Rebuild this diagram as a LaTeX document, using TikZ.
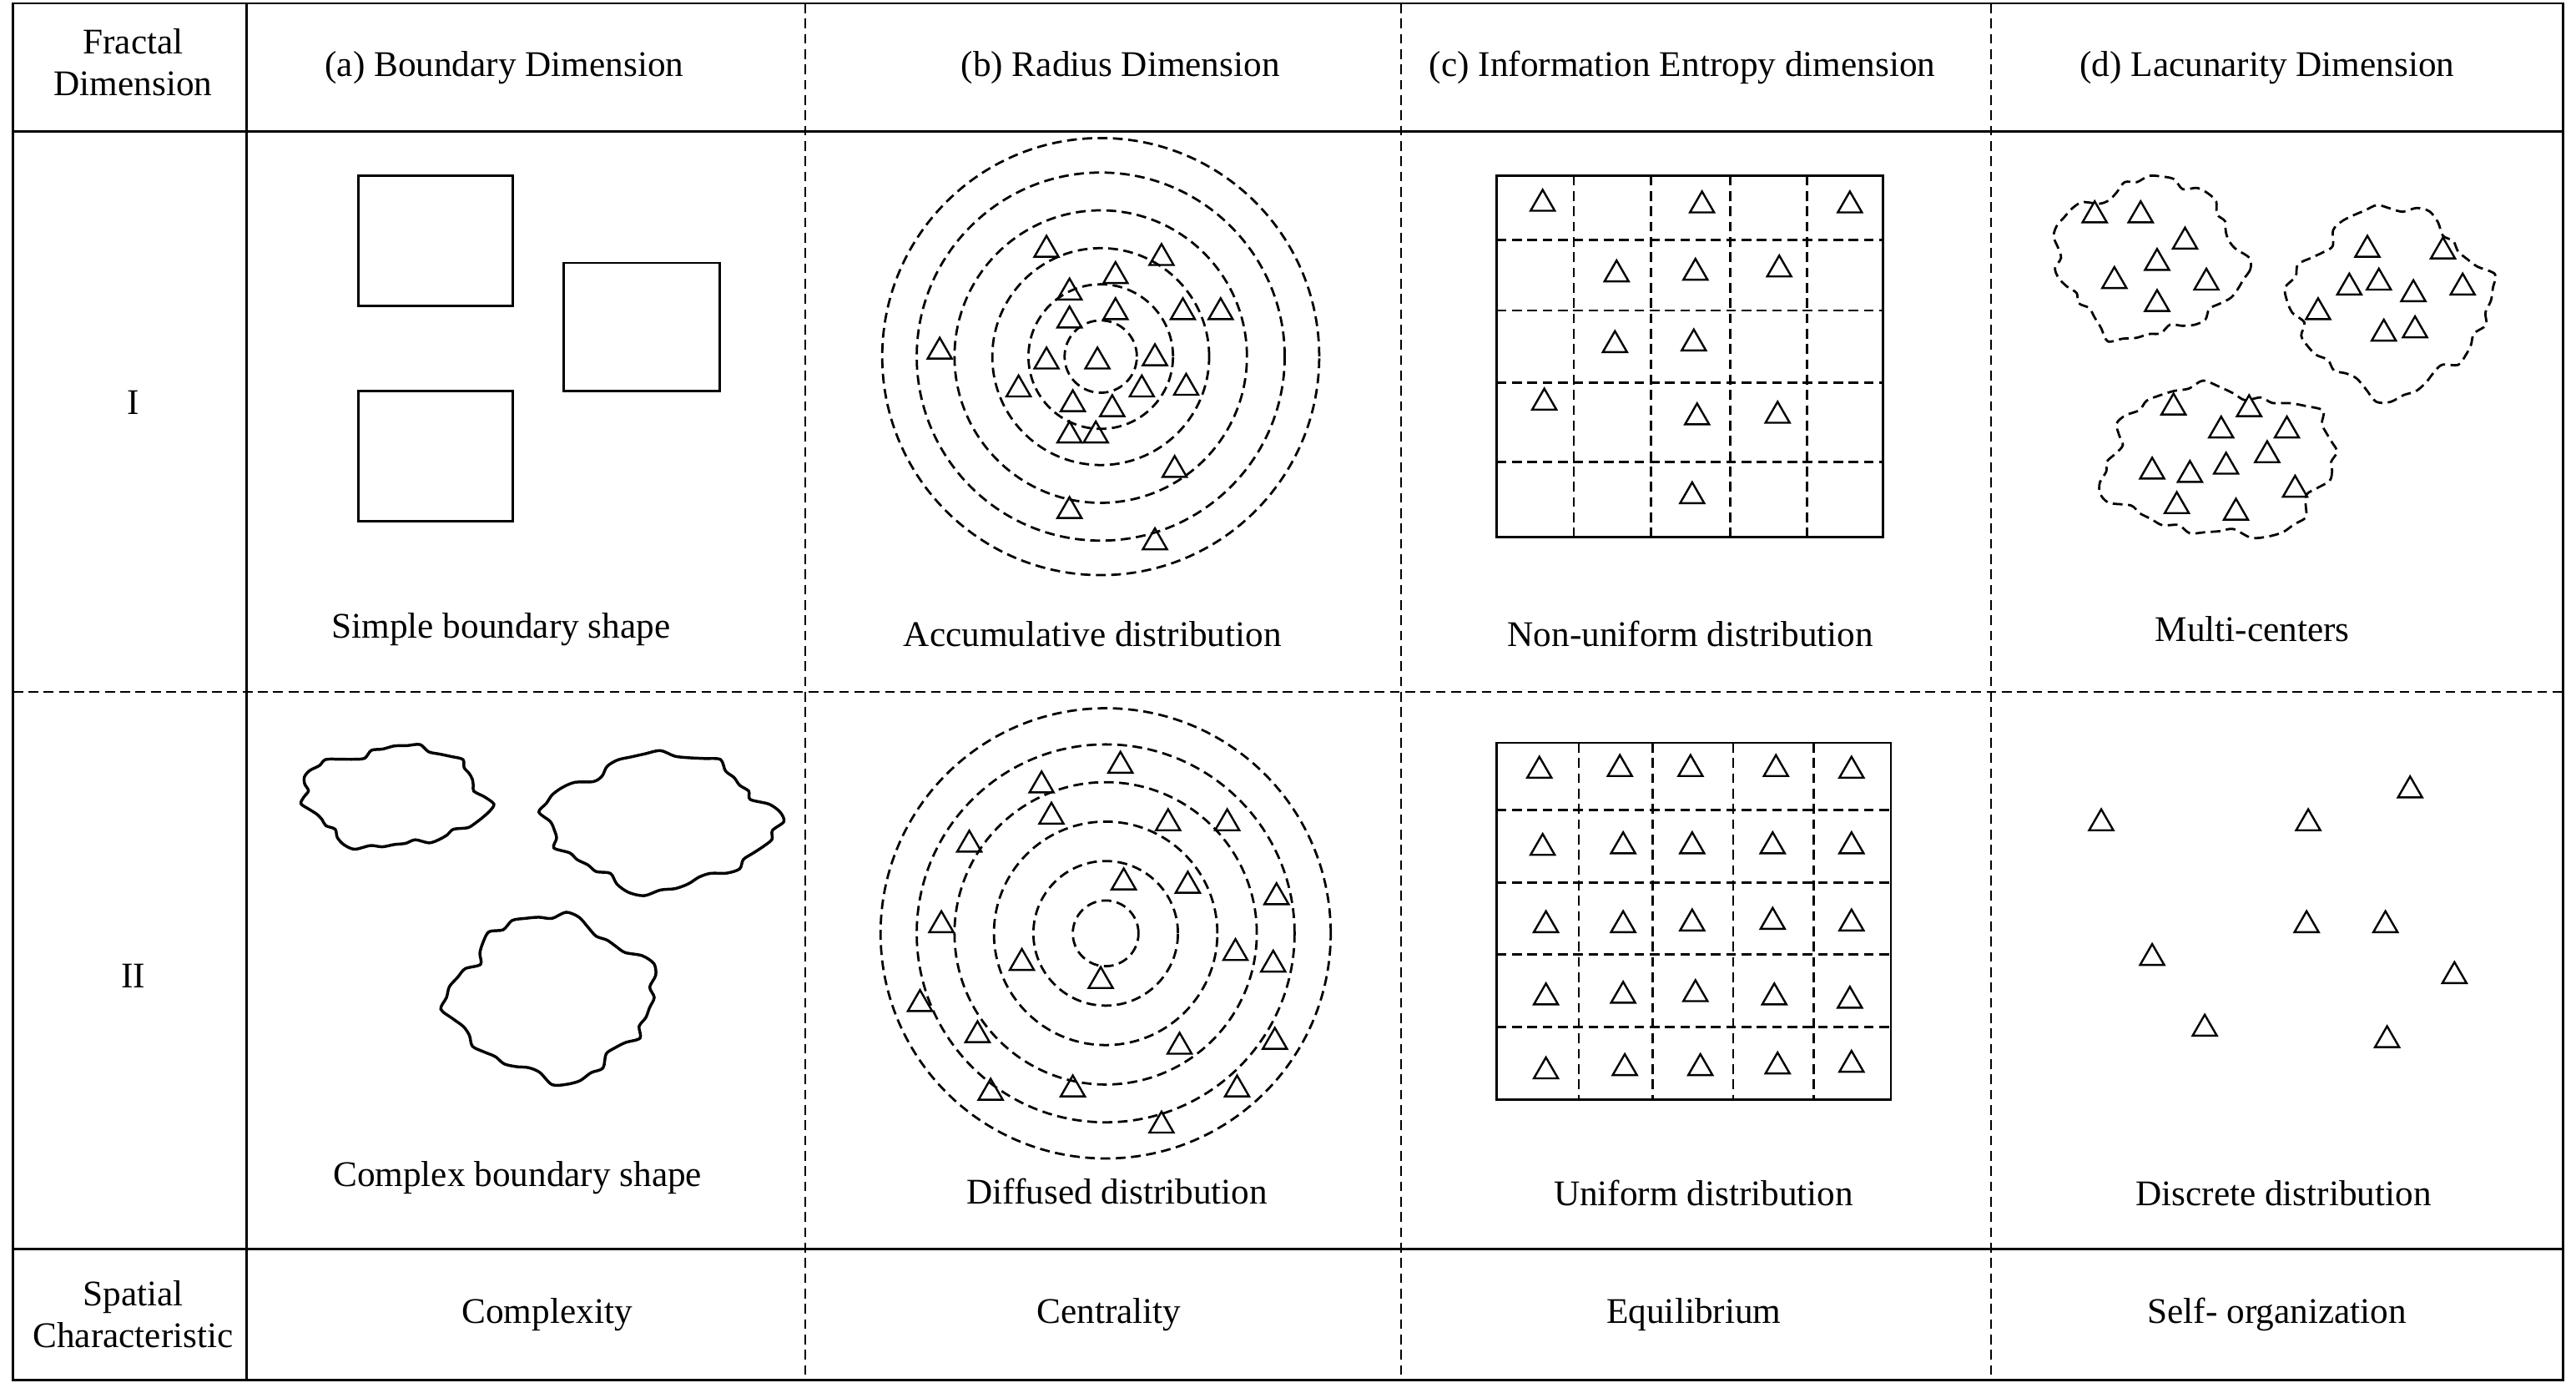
\documentclass[tikz,border=0pt]{standalone}
\usepackage{fontspec}
\setmainfont{Liberation Serif}
\usetikzlibrary{shapes.geometric}
\begin{document}
\begin{tikzpicture}[x=0.02cm,y=-0.02cm,
  line width=0.8pt,
  dsh/.style={dash pattern=on 3.4pt off 1.9pt},
  tri/.style={regular polygon,regular polygon sides=3,draw,minimum size=0.34cm,inner sep=0pt,line width=0.7pt},
  txt/.style={font=\fontsize{12.5}{14.5}\selectfont,align=center,inner sep=0pt},
  declare function={bf(\t,\p)=1+0.07*sin(4*\t+\p)+0.05*sin(7*\t+2*\p)+0.035*sin(13*\t+3*\p)+0.02*sin(23*\t+\p);}]
\useasboundingbox (0,0) rectangle (1568,850.3);
\fill[white] (0,0) rectangle (1568,850.3);
% table
\draw (8,2) rectangle (1560,840);
\draw (8,80) -- (1560,80);
\draw (8,760) -- (1560,760);
\draw (150,2) -- (150,840);
\draw[dsh,line width=0.6pt] (8,421) -- (1560,421);
\foreach \x in {490,853,1212} \draw[dsh,line width=0.6pt] (\x,2) -- (\x,840);
% headers
\node[txt] (h0) at (81,38) {Fractal\\Dimension};
\node[txt] (ha) at (307,41) {(a) Boundary Dimension};
\node[txt] (hb) at (682,41) {(b) Radius Dimension};
\node[txt] (hc) at (1024,41) {(c) Information Entropy dimension};
\node[txt] (hd) at (1380,41) {(d) Lacunarity Dimension};
\node[txt] (r1) at (81,245) {I};
\node[txt] (r2) at (81,594) {II};
\node[txt] (sc) at (81,800) {Spatial\\Characteristic};
\node[txt] (s1) at (333,800) {Complexity};
\node[txt] (s2) at (675,800) {Centrality};
\node[txt] (s3) at (1031,800) {Equilibrium};
\node[txt] (s4) at (1386,800) {Self- organization};
\node[txt] (l1) at (305,383) {Simple boundary shape};
\node[txt] (l2) at (665,386) {Accumulative distribution};
\node[txt] (l3) at (1029,386) {Non-uniform distribution};
\node[txt] (l4) at (1371,383) {Multi-centers};
\node[txt] (l5) at (315,717) {Complex boundary shape};
\node[txt] (l6) at (680,725) {Diffused distribution};
\node[txt] (l7) at (1037,726) {Uniform distribution};
\node[txt] (l8) at (1390,726) {Discrete distribution};
% (a) I
\draw (218,107) rectangle (312,186);
\draw (343,160) rectangle (438,238);
\draw (218,238) rectangle (312,317);
% (a) II blobs
\draw[line width=1pt] plot[smooth cycle,samples=48,domain=0:352.5,variable=\t] ({240+55*cos(\t)*bf(\t,0)},{485+30*sin(\t)*bf(\t,0)});
\draw[line width=1pt] plot[smooth cycle,samples=48,domain=0:352.5,variable=\t] ({402+67*cos(\t)*bf(\t,60)},{500+40*sin(\t)*bf(\t,60)});
\draw[line width=1pt] plot[smooth cycle,samples=48,domain=0:352.5,variable=\t] ({336+60*cos(\t)*bf(\t,130)},{607+48*sin(\t)*bf(\t,130)});
% (b) I
\foreach \r in {22,44,66,89,112,133} \draw[dsh] (670,217) circle[radius=\r*0.02cm];
\foreach \p [count=\i] in {(637,152),(707,157),(679,168),(651,178),(679,190),(720,190),(743,190),(651,195),(572,214),(637,220),(668,220),(703,218),(620,237),(695,237),(722,236),(653,246),(677,249),(651,265),(667,265),(715,286),(651,311),(703,330)}
  \node[tri] (tb\i) at \p {};
% (b) II
\foreach \r in {20,44,68,92,115,137} \draw[dsh] (673,568) circle[radius=\r*0.02cm];
\foreach \p [count=\i] in {(682,466),(634,478),(640,497),(711,501),(747,501),(590,514),(684,537),(723,539),(777,546),(573,563),(622,586),(752,580),(775,587),(670,597),(560,611),(595,630),(718,637),(776,634),(603,665),(653,663),(753,663),(707,685)}
  \node[tri] (tc\i) at \p {};
% (c) I
\draw (911,107) rectangle (1146,327);
\foreach \x in {958,1005,1053,1100} \draw[dsh] (\x,107) -- (\x,327);
\foreach \y in {146,189,233,281} \draw[dsh] (911,\y) -- (1146,\y);
\foreach \p [count=\i] in {(939,124),(1036,125),(1126,125),(984,167),(1032,166),(1083,164),(983,210),(1031,209),(940,245),(1033,254),(1082,253),(1030,302)}
  \node[tri] (td\i) at \p {};
% (c) II
\draw (911,452) rectangle (1151,669);
\foreach \x in {961,1006,1055,1104} \draw[dsh] (\x,452) -- (\x,669);
\foreach \y in {493,537,581,625} \draw[dsh] (911,\y) -- (1151,\y);
\foreach \p [count=\i] in {(937,469),(986,468),(1029,468),(1081,468),(1127,469),
 (939,516),(988,515),(1030,515),(1079,515),(1127,515),
 (941,563),(988,563),(1030,562),(1079,561),(1127,562),
 (941,607),(988,606),(1032,605),(1080,607),(1126,609),
 (941,652),(989,650),(1035,650),(1082,649),(1127,648)}
  \node[tri] (te\i) at \p {};
% (d) I blobs
\draw[dsh] plot[smooth cycle,samples=48,domain=0:352.5,variable=\t] ({1308+56*cos(\t)*bf(\t,20)},{157+47*sin(\t)*bf(\t,20)});
\draw[dsh] plot[smooth cycle,samples=48,domain=0:352.5,variable=\t] ({1455+58*cos(\t)*bf(\t,90)},{183+55*sin(\t)*bf(\t,90)});
\draw[dsh] plot[smooth cycle,samples=48,domain=0:352.5,variable=\t] ({1351+70*cos(\t)*bf(\t,200)},{281+45*sin(\t)*bf(\t,200)});
\foreach \p [count=\i] in {(1275,131),(1303,131),(1330,147),(1313,160),(1287,171),(1343,172),(1313,185),
 (1441,152),(1487,153),(1430,175),(1448,172),(1469,179),(1499,175),(1411,190),(1451,203),(1470,201),
 (1323,248),(1369,249),(1352,262),(1392,262),(1380,277),(1310,287),(1333,289),(1355,284),(1397,298),(1325,308),(1361,312)}
  \node[tri] (tf\i) at \p {};
% (d) II
\foreach \p [count=\i] in {(1279,501),(1405,501),(1467,481),(1404,563),(1452,563),(1310,583),(1494,594),(1342,626),(1453,633)}
  \node[tri] (tg\i) at \p {};
\end{tikzpicture}
\end{document}
